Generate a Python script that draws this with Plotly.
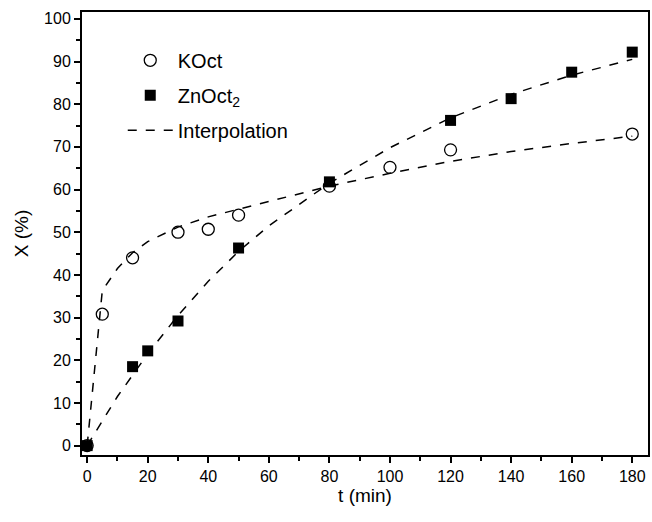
import plotly.graph_objects as go

t_koct = [0, 5, 15, 30, 40, 50, 80, 100, 120, 180]
x_koct = [0, 30.8, 44.0, 50.0, 50.7, 54.0, 60.8, 65.2, 69.3, 73.0]

t_zn = [0, 15, 20, 30, 50, 80, 120, 140, 160, 180]
x_zn = [0, 18.5, 22.2, 29.2, 46.3, 61.8, 76.2, 81.3, 87.5, 92.2]

t_fit_k = [0, 5, 10, 15, 20, 30, 40, 50, 60, 80, 100, 120, 140, 160, 180]
x_fit_k = [0, 36.3, 41.5, 45.2, 47.8, 51.2, 53.6, 55.4, 57.3, 60.8, 63.8, 66.6, 68.9, 70.8, 72.5]

t_fit_z = [0, 10, 20, 30, 40, 50, 60, 80, 100, 120, 140, 160, 180]
x_fit_z = [0, 11.5, 21.5, 30.5, 38.5, 45.5, 51.5, 61.5, 69.8, 76.8, 82.3, 86.8, 90.5]

FONT = "Arial"

fig = go.Figure()
fig.add_trace(go.Scatter(x=t_fit_k, y=x_fit_k, mode="lines", showlegend=False,
                         line=dict(color="black", width=1.5, dash="dash")))
fig.add_trace(go.Scatter(x=t_fit_z, y=x_fit_z, mode="lines", showlegend=False,
                         line=dict(color="black", width=1.5, dash="dash")))
fig.add_trace(go.Scatter(x=t_koct, y=x_koct, mode="markers", name="KOct", legendgroup="a",
                         marker=dict(symbol="circle-open", size=12, color="black",
                                     line=dict(width=1.3, color="black"))))
fig.add_trace(go.Scatter(x=t_zn, y=x_zn, mode="markers", name="ZnOct<sub>2</sub>", legendgroup="b",
                         marker=dict(symbol="square", size=11, color="black")))
fig.add_trace(go.Scatter(x=[None], y=[None], mode="lines", name="Interpolation", legendgroup="c",
                         line=dict(color="black", width=1.5, dash="dash")))

axis_common = dict(showline=True, linecolor="black", linewidth=2, mirror=True,
                   ticks="outside", ticklen=6, tickwidth=2, tickcolor="black",
                   showgrid=False, zeroline=False,
                   tickfont=dict(family=FONT, size=16, color="black"))

fig.update_xaxes(range=[-1.7, 185.2], tickvals=list(range(0, 181, 20)),
                 minor=dict(ticks="outside", ticklen=4, tickwidth=2, tickcolor="black",
                            tickvals=list(range(10, 181, 20))),
                 title=dict(text="t (min)", font=dict(family=FONT, size=19, color="black"),
                            standoff=2),
                 **axis_common)
fig.update_yaxes(range=[-2.2, 101.6], tickvals=list(range(0, 101, 10)),
                 minor=dict(ticks="outside", ticklen=4, tickwidth=2, tickcolor="black",
                            tickvals=list(range(5, 100, 10))),
                 title=dict(text="X (%)", font=dict(family=FONT, size=19, color="black"),
                            standoff=10),
                 **axis_common)

fig.update_layout(width=652, height=522, plot_bgcolor="white", paper_bgcolor="white",
                  margin=dict(l=82, r=2, t=12, b=67),
                  legend=dict(x=0.072, y=0.935, xanchor="left", yanchor="top",
                              bgcolor="rgba(0,0,0,0)", itemwidth=45,
                              traceorder="grouped", tracegroupgap=6,
                              font=dict(family=FONT, size=20, color="black")))
fig.write_html("out.html")
